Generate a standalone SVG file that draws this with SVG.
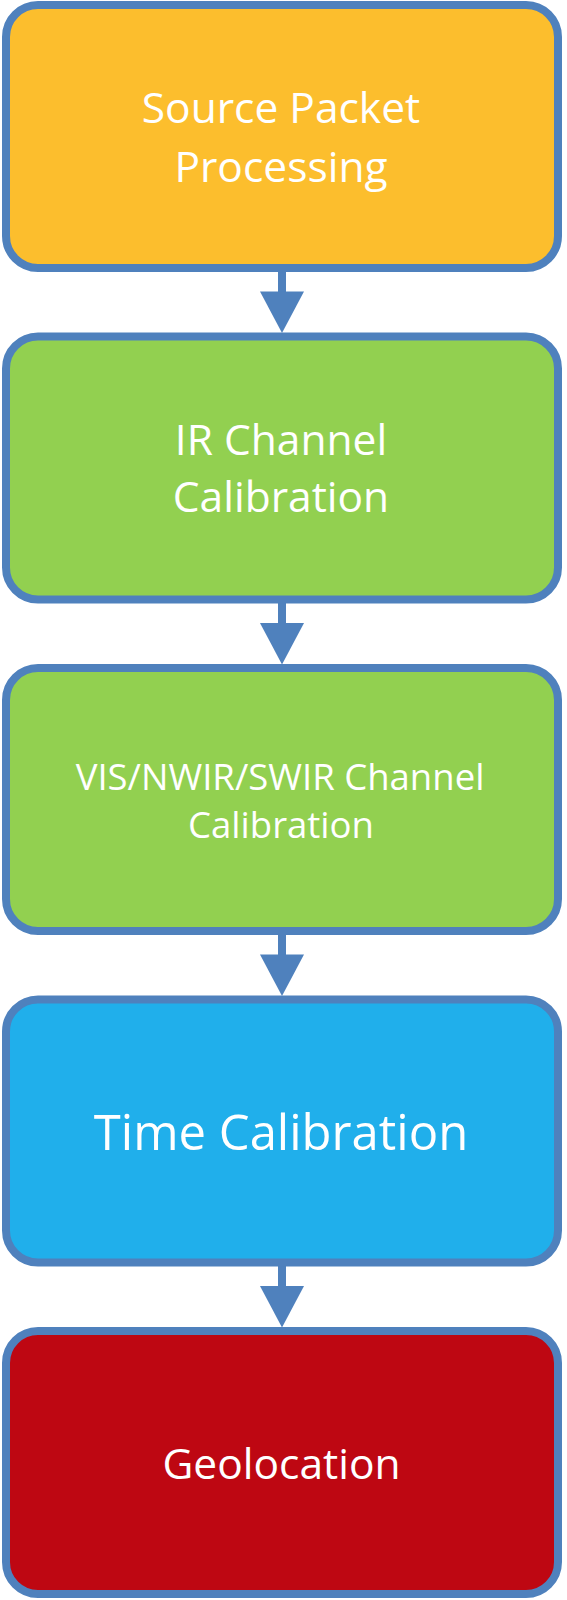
<svg xmlns="http://www.w3.org/2000/svg" width="567" height="1600" viewBox="0 0 567 1600">
<style>
.box{stroke:#4F81BD;stroke-width:8}
.lbl{font-family:"Open Sans","Noto Sans","Liberation Sans",sans-serif;fill:#FFFFFF;text-anchor:middle}
.arr{fill:#4F81BD}
</style>
<rect width="567" height="1600" fill="#FFFFFF"/>
<g id="connectors">
<rect class="arr" x="278" y="268" width="8" height="24"/>
<polygon class="arr" points="260,291.5 304,291.5 282,333"/>
<rect class="arr" x="278" y="599.5" width="8" height="24"/>
<polygon class="arr" points="260,623 304,623 282,664.5"/>
<rect class="arr" x="278" y="931" width="8" height="24"/>
<polygon class="arr" points="260,954.5 304,954.5 282,996"/>
<rect class="arr" x="278" y="1262.5" width="8" height="24"/>
<polygon class="arr" points="260,1286 304,1286 282,1327.5"/>
</g>
<g id="source-packet-processing">
<rect class="box" x="6" y="5" width="552" height="263" rx="32" fill="#FCBE2D"/>
<text class="lbl" x="281" y="123" font-size="42.5">Source Packet</text>
<text class="lbl" x="281" y="182" font-size="42.5">Processing</text>
</g>
<g id="ir-channel-calibration">
<rect class="box" x="6" y="336.5" width="552" height="263" rx="32" fill="#92D050"/>
<text class="lbl" x="281" y="455" font-size="42.5">IR Channel</text>
<text class="lbl" x="281" y="512" font-size="42.5">Calibration</text>
</g>
<g id="vis-nwir-swir-channel-calibration">
<rect class="box" x="6" y="668" width="552" height="263" rx="32" fill="#92D050"/>
<text class="lbl" x="280" y="790" font-size="36.5">VIS/NWIR/SWIR Channel</text>
<text class="lbl" x="281" y="838" font-size="36.5">Calibration</text>
</g>
<g id="time-calibration">
<rect class="box" x="6" y="999.5" width="552" height="263" rx="32" fill="#20AFEB"/>
<text class="lbl" x="281" y="1150" font-size="49">Time Calibration</text>
</g>
<g id="geolocation">
<rect class="box" x="6" y="1331" width="552" height="263" rx="32" fill="#BE0712"/>
<text class="lbl" x="281.5" y="1479" font-size="42.5">Geolocation</text>
</g>
</svg>
